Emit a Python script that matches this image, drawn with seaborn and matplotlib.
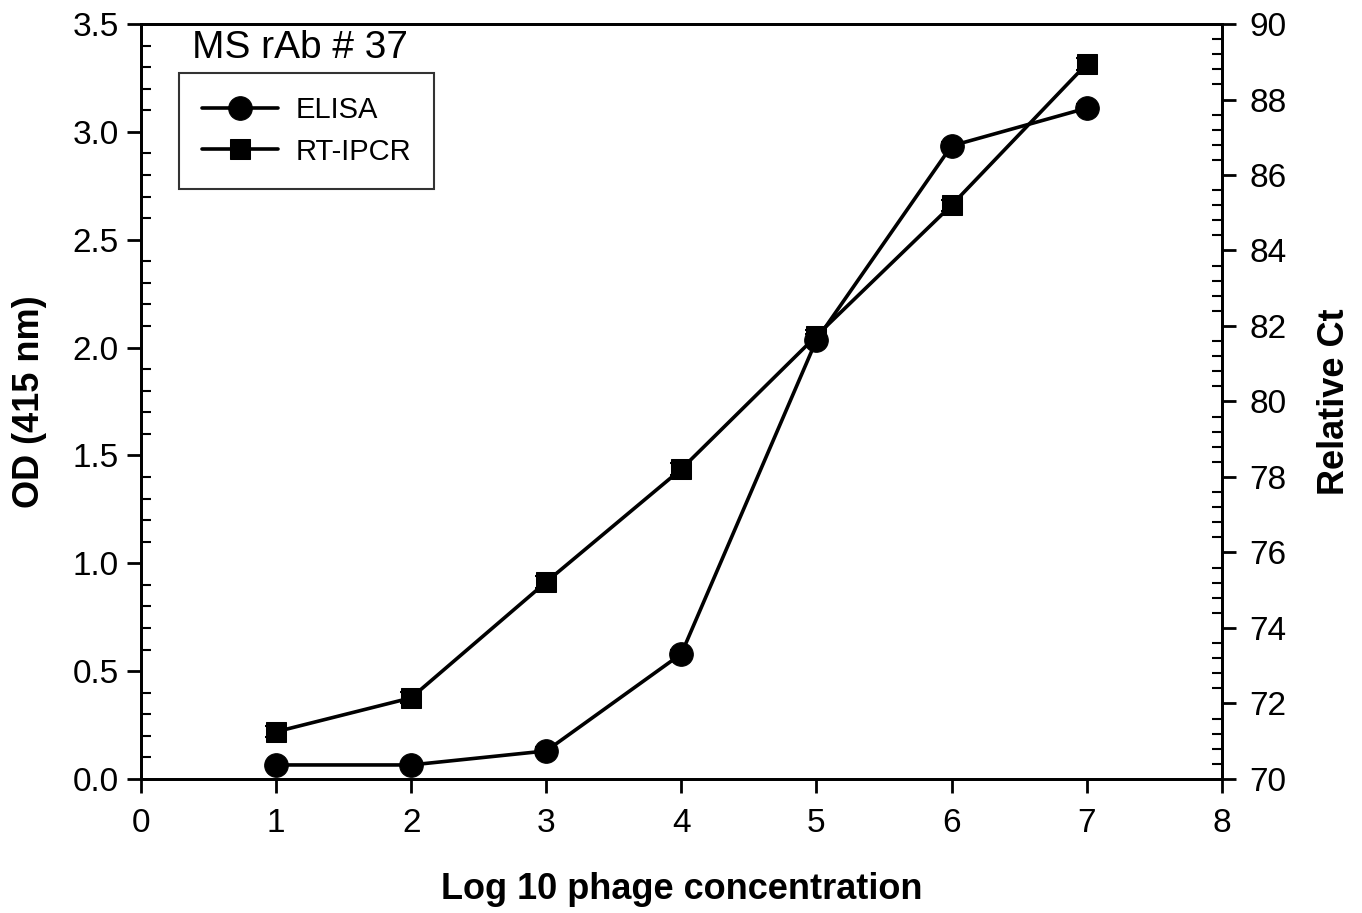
import numpy as np
import pandas as pd
import seaborn as sns
import matplotlib.pyplot as plt
from matplotlib.ticker import MultipleLocator

sns.set_theme(style="ticks")
plt.rcParams['font.family'] = ['Liberation Sans', 'DejaVu Sans']
plt.rcParams['text.color'] = 'black'
plt.rcParams['axes.labelcolor'] = 'black'

# values
log_conc = [1, 2, 3, 4, 5, 6, 7]
elisa_od = [0.065, 0.065, 0.13, 0.58, 2.035, 2.935, 3.11]
elisa_err = [0.01, 0.01, 0.02, 0.02, 0.03, 0.02, 0.02]
ipcr_ct = [71.25, 72.15, 75.22, 78.21, 81.74, 85.2, 88.94]
ipcr_err = [0.15, 0.15, 0.15, 0.15, 0.15, 0.15, 0.15]

df = pd.DataFrame({'x': log_conc, 'od': elisa_od, 'ct': ipcr_ct})

fig = plt.figure(figsize=(13.62, 9.13), dpi=100)
ax = fig.add_axes([0.1035, 0.1468, 0.7935, 0.8269])
ax2 = ax.twinx()

sns.lineplot(data=df, x='x', y='od', ax=ax, color='black', lw=2.6,
             marker='o', markersize=17, markeredgecolor='black', label='ELISA', legend=False)
ax.errorbar(log_conc, elisa_od, yerr=elisa_err, fmt='none', ecolor='black',
            capsize=8, capthick=1.5, lw=1.5, zorder=5)

sns.lineplot(data=df, x='x', y='ct', ax=ax2, color='black', lw=2.6,
             marker='s', markersize=14, markeredgecolor='black', label='RT-IPCR', legend=False)
ax2.errorbar(log_conc, ipcr_ct, yerr=ipcr_err, fmt='none', ecolor='black',
             capsize=8, capthick=1.5, lw=1.5, zorder=5)

ax.set_xlim(0, 8)
ax.set_ylim(0, 3.5)
ax2.set_ylim(70, 90)
ax.xaxis.set_major_locator(MultipleLocator(1))
ax.yaxis.set_major_locator(MultipleLocator(0.5))
ax.yaxis.set_minor_locator(MultipleLocator(0.1))
ax2.yaxis.set_major_locator(MultipleLocator(2))
ax2.yaxis.set_minor_locator(MultipleLocator(0.4))
ax.yaxis.set_major_formatter(plt.FormatStrFormatter('%.1f'))

for a in (ax, ax2):
    for s in a.spines.values():
        s.set_linewidth(2)
        s.set_color('black')
    a.tick_params(which='major', direction='out', length=10, width=2, labelsize=24,
                  colors='black', labelcolor='black')
    a.tick_params(which='minor', direction='in', length=7, width=1.5, colors='black')
ax.tick_params(axis='x', which='major', pad=11)
ax.tick_params(axis='y', which='major', pad=6)
ax2.tick_params(axis='y', which='major', pad=10)
ax.tick_params(axis='x', which='minor', bottom=False)

ax.set_xlabel('Log 10 phage concentration', fontsize=26, fontweight='bold', labelpad=24)
ax.set_ylabel('OD (415 nm)', fontsize=26, fontweight='bold', labelpad=18)
ax2.set_ylabel('Relative Ct', fontsize=26, fontweight='bold', labelpad=22)

ax.text(1.18, 3.39, 'MS rAb # 37', fontsize=28, ha='center', va='center')

h1, l1 = ax.get_legend_handles_labels()
h2, l2 = ax2.get_legend_handles_labels()
leg = ax2.legend(h1 + h2, l1 + l2, loc='upper left', bbox_to_anchor=(0.035, 0.935),
                 borderaxespad=0, fontsize=21, frameon=True, fancybox=False, edgecolor='black',
                 borderpad=0.8, handlelength=2.6, handletextpad=0.6, labelspacing=0.45)
leg.get_frame().set_linewidth(1.5)

fig.savefig('out.png', dpi=100)
